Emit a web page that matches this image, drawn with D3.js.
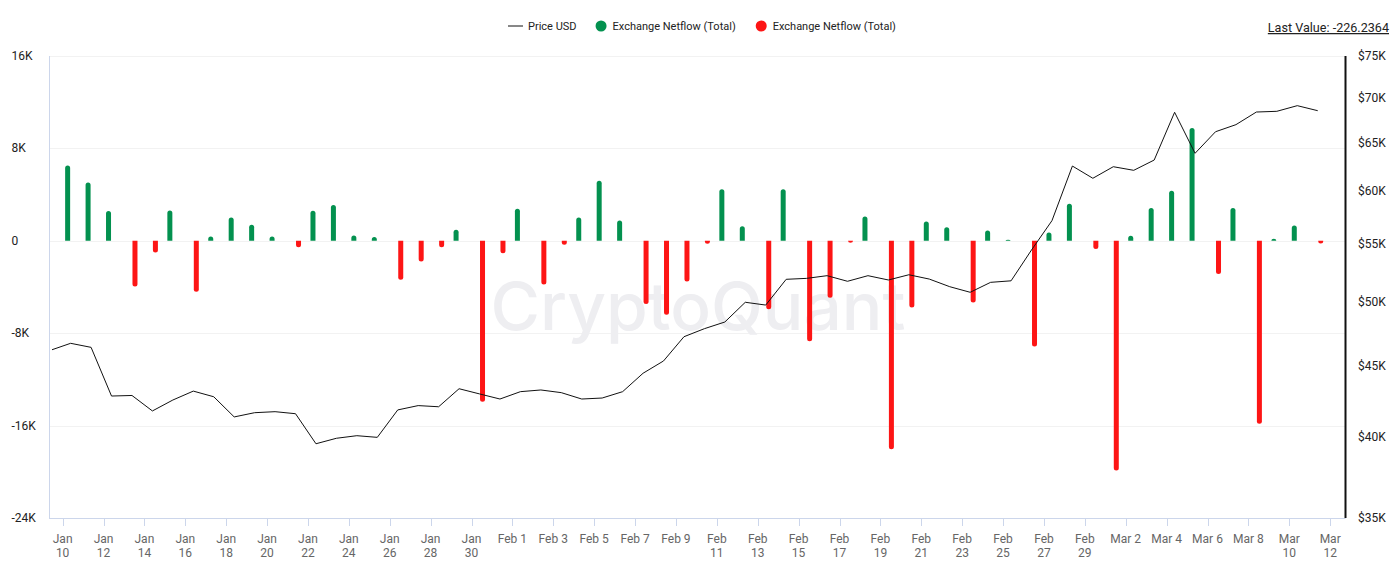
<!DOCTYPE html>
<html>
<head>
<meta charset="utf-8">
<script src="https://cdn.jsdelivr.net/npm/d3@7"></script>
<style>
  html, body { margin: 0; padding: 0; background: #fff; }
  svg { display: block; font-family: Roboto, "Noto Sans", Arial, sans-serif; }
</style>
</head>
<body>
<svg id="chart" width="1400" height="563"></svg>
<script>
// ---------- DATA ----------
const startDate = "2024-01-09";
const priceUSD = [
  46150, 46690, 46380, 42800, 42840, 41760, 42520, 43150, 42750, 41350,
  41640, 41710, 41570, 39560, 39920, 40090, 39980, 41830, 42130, 42050,
  43320, 42950, 42590, 43110, 43230, 43040, 42590, 42660, 43110, 44440,
  45350, 47200, 47830, 48360, 49960, 49730, 51890, 51970, 52200, 51720,
  52200, 51830, 52280, 51910, 51260, 50790, 51630, 51760, 54460, 57160,
  62550, 61300, 62480, 62110, 63170, 68350, 63880, 66190, 66970, 68380,
  68460, 69100, 68530
];
// netflow per day (null = no value for the first day)
const netflow = [
  null, 6520, 5050, 2570, -3960, -1010, 2620, -4420, 370, 2020,
  1390, 370, -550, 2600, 3090, 460, 320, -3380, -1790, -550,
  950, -13940, -1070, 2770, -3780, -350, 2020, 5190, 1760, -5480,
  -6410, -3520, -260, 4470, 1270, -5920, 4470, -8690, -4940, -170,
  2100, -18040, -5770, 1670, 1180, -5340, 890, 80, -9150, 720,
  3200, -720, -19890, 430, 2830, 4330, 9760, -2880, 2830, -15850,
  170, 1320, -226.2364
];
const leftTicks = [-24000, -16000, -8000, 0, 8000, 16000];
const rightTicks = [35000, 40000, 45000, 50000, 55000, 60000, 65000, 70000, 75000];
const xTickDates = [
  "2024-01-10","2024-01-12","2024-01-14","2024-01-16","2024-01-18","2024-01-20",
  "2024-01-22","2024-01-24","2024-01-26","2024-01-28","2024-01-30","2024-02-01",
  "2024-02-03","2024-02-05","2024-02-07","2024-02-09","2024-02-11","2024-02-13",
  "2024-02-15","2024-02-17","2024-02-19","2024-02-21","2024-02-23","2024-02-25",
  "2024-02-27","2024-02-29","2024-03-02","2024-03-04","2024-03-06","2024-03-08",
  "2024-03-10","2024-03-12"
];
const legendItems = ["Price USD", "Exchange Netflow (Total)", "Exchange Netflow (Total)"];
const lastValueText = "Last Value: -226.2364";

// ---------- SETUP ----------
const svg = d3.select("#chart");
const parse = d3.utcParse("%Y-%m-%d");
const t0 = parse(startDate);
const sampleOffsetMs = 9.4 * 3600 * 1000; // daily sample time within the day
const dates = priceUSD.map((_, i) => new Date(d3.utcDay.offset(t0, i).getTime() + sampleOffsetMs));

const plot = { left: 49, right: 1345.5, top: 56, bottom: 518 };
const x = d3.scaleUtc()
  .domain([new Date(Date.UTC(2024, 0, 9, 8)), new Date(Date.UTC(2024, 2, 12, 18))])
  .range([plot.left, plot.right]);
const yL = d3.scaleLinear().domain([-24000, 16000]).range([plot.bottom, plot.top]);
const yR = d3.scaleLog().domain([35000, 75000]).range([plot.bottom, plot.top]);

const GREEN = "#03914f", RED = "#fd1515";

// clip for plot area
svg.append("defs").append("clipPath").attr("id", "clip")
  .append("rect").attr("x", plot.left + 3).attr("y", plot.top - 10)
  .attr("width", plot.right - plot.left).attr("height", plot.bottom - plot.top + 10);

// grid lines
svg.append("g").selectAll("line").data(leftTicks.filter(d => d !== -24000)).join("line")
  .attr("x1", plot.left).attr("x2", plot.right)
  .attr("y1", d => Math.round(yL(d)) + 0.5).attr("y2", d => Math.round(yL(d)) + 0.5)
  .attr("stroke", "#f2f2f2").attr("stroke-width", 1);

// watermark
svg.append("text")
  .attr("x", 698).attr("y", 330)
  .attr("text-anchor", "middle")
  .attr("font-family", "Inter, 'Open Sans', sans-serif")
  .attr("font-size", 66).attr("font-weight", 500)
  .attr("fill", "#eeeef1")
  .attr("textLength", 415).attr("lengthAdjust", "spacingAndGlyphs")
  .text("CryptoQuant");

// bars
const barW = 5;
function barPath(cx, v) {
  const y0 = yL(0), y1 = yL(v);
  const h = Math.abs(y1 - y0);
  const r = Math.min(barW / 2, Math.max(h, 1));
  const xa = cx - barW / 2, xb = cx + barW / 2;
  if (v >= 0) {
    const top = Math.min(y1, y0 - 1);
    return `M${xa},${y0}L${xa},${top + r}A${barW/2},${r} 0 0 1 ${xb},${top + r}L${xb},${y0}Z`;
  } else {
    const bot = Math.max(y1, y0 + 1);
    return `M${xa},${y0}L${xa},${bot - r}A${barW/2},${r} 0 0 0 ${xb},${bot - r}L${xb},${y0}Z`;
  }
}
const barData = netflow.map((v, i) => ({ v, d: dates[i] })).filter(o => o.v !== null);
svg.append("g").selectAll("path").data(barData).join("path")
  .attr("d", o => barPath(x(o.d) + (o.v >= 0 ? -3 : 3), o.v))
  .attr("fill", o => o.v >= 0 ? GREEN : RED);

// price line
const line = d3.line().x((d, i) => x(dates[i])).y(d => yR(d));
svg.append("path").datum(priceUSD)
  .attr("clip-path", "url(#clip)")
  .attr("d", line).attr("fill", "none").attr("stroke", "#111").attr("stroke-width", 1)
  .attr("stroke-linejoin", "round");

// left axis line
svg.append("line").attr("x1", plot.left + 0.5).attr("x2", plot.left + 0.5)
  .attr("y1", plot.top).attr("y2", plot.bottom).attr("stroke", "#ccd6eb");
// x axis line
svg.append("line").attr("x1", plot.left).attr("x2", plot.right)
  .attr("y1", plot.bottom + 0.5).attr("y2", plot.bottom + 0.5).attr("stroke", "#ccd6eb");
// right axis line
svg.append("line").attr("x1", plot.right).attr("x2", plot.right)
  .attr("y1", plot.top).attr("y2", plot.bottom).attr("stroke", "#111").attr("stroke-width", 2);

// left labels
svg.append("g").selectAll("text").data(leftTicks).join("text")
  .attr("x", 11.5).attr("y", d => yL(d) + 4)
  .attr("font-size", 12).attr("fill", "#222")
  .text(d => d === 0 ? "0" : (d / 1000) + "K");

// right labels
svg.append("g").selectAll("text").data(rightTicks).join("text")
  .attr("x", 1358).attr("y", d => yR(d) + 4)
  .attr("font-size", 12).attr("fill", "#222")
  .text(d => "$" + (d / 1000) + "K");

// x ticks and labels
const xTicks = xTickDates.map(s => parse(s));
svg.append("g").selectAll("line").data(xTicks).join("line")
  .attr("x1", d => Math.round(x(d)) + 0.5).attr("x2", d => Math.round(x(d)) + 0.5)
  .attr("y1", plot.bottom).attr("y2", plot.bottom + 8).attr("stroke", "#ccd6eb");
const fmtM = d3.utcFormat("%b"), fmtD = d3.utcFormat("%-d");
const xl = svg.append("g").selectAll("text").data(xTicks).join("text")
  .attr("text-anchor", "middle").attr("font-size", 12).attr("fill", "#666")
  .attr("x", d => x(d)).attr("y", 543);
xl.each(function(d) {
  const t = d3.select(this);
  const day = +fmtD(d);
  if (day >= 10) {
    t.append("tspan").attr("x", x(d)).attr("y", 543).text(fmtM(d));
    t.append("tspan").attr("x", x(d)).attr("y", 557).text(fmtD(d));
  } else {
    t.text(fmtM(d) + " " + fmtD(d));
  }
});

// legend
const lg = svg.append("g").attr("font-size", 11).attr("fill", "#222");
let cx = 508;
const ly = 26;
legendItems.forEach((name, i) => {
  if (i === 0) {
    lg.append("line").attr("x1", cx).attr("x2", cx + 15).attr("y1", ly).attr("y2", ly)
      .attr("stroke", "#111").attr("stroke-width", 1);
    const t = lg.append("text").attr("x", cx + 20).attr("y", ly + 4).text(name);
    cx += 20 + t.node().getComputedTextLength() + 19;
  } else {
    lg.append("circle").attr("cx", cx + 5.5).attr("cy", ly).attr("r", 5.5)
      .attr("fill", i === 1 ? GREEN : RED);
    const t = lg.append("text").attr("x", cx + 17).attr("y", ly + 4).text(name);
    cx += 17 + t.node().getComputedTextLength() + 20;
  }
});

// last value
svg.append("text").attr("x", 1389).attr("y", 32).attr("text-anchor", "end")
  .attr("font-size", 12.6).attr("fill", "#222").attr("text-decoration", "underline")
  .text(lastValueText);
</script>
</body>
</html>
